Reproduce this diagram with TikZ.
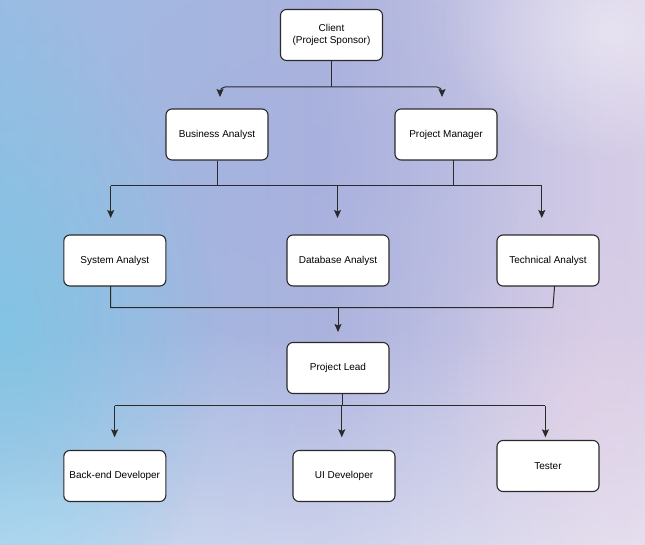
\documentclass[tikz,border=0pt]{standalone}
\usepackage{fontspec}
\setmainfont{Liberation Sans}
\usetikzlibrary{arrows.meta,fadings}

\definecolor{washA}{HTML}{7CC6E3}
\definecolor{washA2}{HTML}{8CC2E4}
\definecolor{washB}{HTML}{A0B9E2}
\definecolor{washC}{HTML}{ABB3DE}
\definecolor{washD}{HTML}{D3CBE6}
\definecolor{washE}{HTML}{E7D3E6}
\definecolor{core}{HTML}{A4AEDD}
\definecolor{edge}{HTML}{2A2A2A}

\pgfdeclarehorizontalshading{wash}{100bp}{%
  color(0bp)=(washA); color(14bp)=(washA2); color(32bp)=(washB);
  color(50bp)=(washC); color(72bp)=(washD); color(100bp)=(washE)}

\tikzfading[name=soft, inner color=transparent!0, outer color=transparent!100]

\tikzset{
  role/.style={draw=edge, line width=1.1pt, fill=white, rounded corners=6pt,
    minimum width=102pt, minimum height=51pt, align=center,
    font=\fontsize{10}{12.5}\selectfont, inner sep=0pt},
  link/.style={draw=edge, line width=1pt},
  tip/.style={link, -{Stealth[length=8pt,width=7pt,inset=1.5pt]}},
  blob/.style={path fading=soft, fit fading=true}
}

\begin{document}
\begin{tikzpicture}[x=1pt,y=-1pt]
  % watercolour backdrop
  \useasboundingbox (0,0) rectangle (645,545);
  \shade[shading=wash] (0,0) rectangle (645,545);
  \fill[white, opacity=0.4, path fading=north] (0,330) rectangle (645,545);
  \fill[core, opacity=0.35, blob] (310,160) ellipse (220 and 190);
  \fill[white, opacity=0.45, blob] (610,30) ellipse (170 and 130);
  \fill[washA, opacity=0.75, blob] (10,330) ellipse (210 and 330);
  \fill[white!65!cyan, opacity=0.3, blob] (40,530) ellipse (150 and 80);
  \fill[washE, opacity=0.5, blob] (580,400) ellipse (140 and 200);

  % roles
  \node[role] (client) at (331.5,35) {Client\\(Project Sponsor)};
  \node[role] (ba) at (217,134.5) {Business Analyst};
  \node[role] (pm) at (446,134.5) {Project Manager};
  \node[role] (sa) at (114.8,260.5) {System Analyst};
  \node[role] (dba) at (338,260.5) {Database Analyst};
  \node[role] (ta) at (548,260.5) {Technical Analyst};
  \node[role] (pl) at (338,368) {Project Lead};
  \node[role] (be) at (114.8,476) {Back-end Developer};
  \node[role] (ui) at (344,476) {UI Developer};
  \node[role] (qa) at (548,466) {Tester};

  % client to first tier
  \coordinate (cj) at (331.5,87);
  \coordinate (baTip) at (220,97);
  \coordinate (pmTip) at (442,97);
  \draw[link] (client.south) -- (cj);
  \draw[tip, rounded corners=5pt] (cj) -| (baTip);
  \draw[tip, rounded corners=5pt] (cj) -| (pmTip);

  % first tier to analysts
  \coordinate (baJ) at (217,186);
  \coordinate (pmJ) at (453,186);
  \coordinate (busL) at (110.7,186);
  \coordinate (busR) at (541.8,186);
  \draw[link] (ba.south) -- (baJ);
  \draw[link] (453,160) -- (pmJ);
  \draw[link] (busL) -- (busR);
  \draw[tip] (busL) -- (110.7,218);
  \draw[tip] (337.5,186) -- (337.5,218);
  \draw[tip] (busR) -- (541.8,218);

  % analysts to project lead
  \coordinate (saJ) at (110.7,307.7);
  \coordinate (taJ) at (552.9,307.7);
  \draw[link] (110.7,286) -- (saJ) -- (taJ) -- (554.6,286);
  \draw[tip] (338,307.7) -- (338,332);

  % project lead to delivery team
  \coordinate (plJ) at (342.5,405.7);
  \coordinate (devL) at (114.6,405.7);
  \coordinate (devR) at (545.4,405.7);
  \draw[link] (342.5,393.5) -- (plJ);
  \draw[link] (devL) -- (devR);
  \draw[tip] (devL) -- (114.6,437.3);
  \draw[tip] (341.8,405.7) -- (341.8,437.3);
  \draw[tip] (devR) -- (545.4,437.3);
\end{tikzpicture}
\end{document}
